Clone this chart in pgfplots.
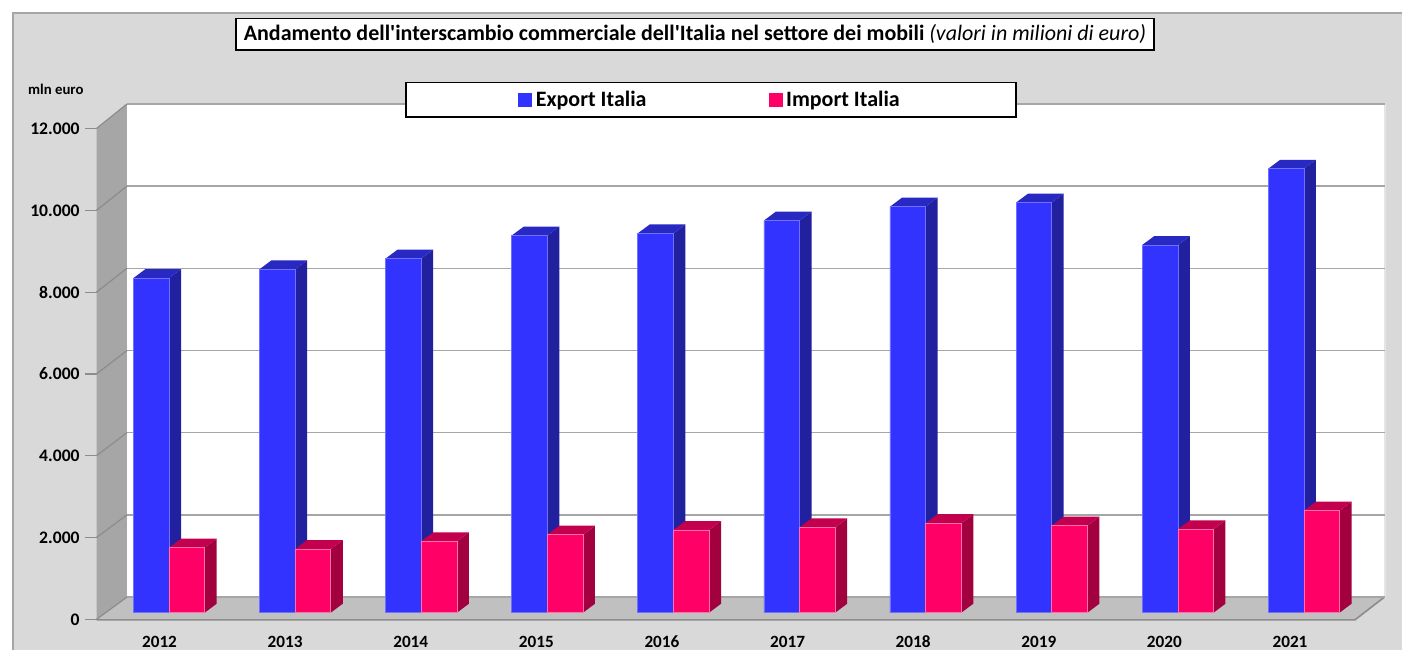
\documentclass[border=0pt]{standalone}
\usepackage{pgfplots}
\pgfplotsset{compat=1.18}
\usepackage{pgfplotstable}
\usepackage{fontspec}
\setmainfont{Carlito}
\newfontfamily\titlefont{Carlito}
\definecolor{chartbg}{HTML}{D9D9D9}
\definecolor{chartedge}{HTML}{A6A6A6}
\definecolor{sidewall}{HTML}{A6A6A6}
\definecolor{floorc}{HTML}{C0C0C0}
\definecolor{gridc}{HTML}{A6A6A6}
\definecolor{gridd}{HTML}{8C8C8C}
\definecolor{expfront}{HTML}{3333FF}
\definecolor{expedge}{HTML}{7070FF}
\definecolor{expsidec}{HTML}{2121A0}
\definecolor{exptopc}{HTML}{2828C2}
\definecolor{impfront}{HTML}{FF0066}
\definecolor{impedge}{HTML}{FF6FA8}
\definecolor{impsidec}{HTML}{A3003F}
\definecolor{imptopc}{HTML}{C2004E}

\pgfplotstableread{
idx exp imp
0 8150 1585
1 8365 1550
2 8625 1740
3 9185 1900
4 9240 2015
5 9550 2080
6 9890 2180
7 9990 2120
8 8955 2030
9 10815 2485
}\datatable

\pgfplotsset{
  expside/.style={fill=expsidec,draw=none},
  exptop/.style={fill=exptopc,draw=none},
  impside/.style={fill=impsidec,draw=none},
  imptop/.style={fill=imptopc,draw=none},
}
\def\bw{0.283}
\def\ddx{0.0952}
\def\ddy{219}

\begin{document}
\begin{tikzpicture}
\begin{scope}[x=0.5pt,y=-0.5pt,yshift=325pt]
  % page and chart area
  \fill[white] (0,0) rectangle (1402,650);
  \fill[chartbg] (13.4,12.7) rectangle (1402,650);
  \draw[chartedge,line width=1pt] (13.4,650) -- (13.4,12.7) -- (1402,12.7);
  % side wall
  \fill[sidewall] (96.5,128.5) -- (127,104) -- (127,597) -- (96.5,619.3) -- cycle;
  % back wall
  \fill[white] (127,104) rectangle (1384.5,597);
  \draw[gridc!80!black,line width=0.9pt] (127,104) -- (1384.5,104);
  \draw[gray!20,line width=1pt] (1385,104) -- (1385,597);
  % floor
  \fill[floorc] (96.5,619.3) -- (1355,619.3) -- (1384.5,597) -- (127,597) -- cycle;
  \draw[gridd,line width=0.8pt] (96.5,619.8) -- (1355,619.8) -- (1384.5,597);
  % gridlines
  \foreach \k in {0,...,6} {
    \draw[gridc,line width=0.8pt] (127,{597-82.17*\k}) -- (1384.5,{597-82.17*\k});
    \draw[gridd,line width=0.6pt] (96.5,{619.3-81.8*\k}) -- (127,{597-82.17*\k});
    \draw[gridd,line width=0.6pt] (85,{619.3-81.8*\k}) -- (96.5,{619.3-81.8*\k});
  }
  % title
  \node[draw=black,fill=white,line width=0.6pt,minimum width=459pt,minimum height=15.85pt,inner sep=0pt,font=\titlefont\fontsize{11}{13}\selectfont] at (695,34.2)
    {\textbf{Andamento dell'interscambio commerciale dell'Italia nel settore dei mobili} \textit{(valori in milioni di euro)}};
  % legend box
  \draw[black,fill=white,line width=0.6pt] (406,82.7) rectangle (1016,117);
  % unit label
  \node[anchor=base west,inner sep=0pt,font=\bfseries\fontsize{7.4}{8}\selectfont] at (27.7,94) {mln euro};
\end{scope}
\begin{axis}[
  at={(0,0)}, anchor=south west,
  scale only axis, width=701pt, height=325pt,
  xmin=-1.34020, xmax=9.77795, ymin=-908.6, ymax=14925.4,
  axis line style={draw=none}, tick style={draw=none},
  clip=false,
  ytick={-160.8,1831.8,3824.4,5817,7809.6,9802.2,11794.8},
  yticklabels={0,2.000,4.000,6.000,8.000,10.000,12.000},
  yticklabel style={anchor=east,inner sep=0pt,xshift=40pt,font=\bfseries\fontsize{8.8}{10}\selectfont},
  xtick={-0.0753,0.9208,1.9169,2.9131,3.9092,4.9053,5.9014,6.8975,7.8937,8.8898},
  xticklabels={2012,2013,2014,2015,2016,2017,2018,2019,2020,2021},
  xticklabel style={anchor=base,inner sep=0pt,yshift=1.2pt,font=\bfseries\fontsize{8.6}{10}\selectfont},
  legend columns=2,
  legend style={draw=none,fill=none,at={(0.50713,0.84638)},anchor=center,
    font=\bfseries\fontsize{11}{13}\selectfont,
    /tikz/every even column/.append style={column sep=59pt}},
]
\pgfplotsinvokeforeach{0,...,9}{%
  \pgfplotstablegetelem{#1}{exp}\of\datatable
  \pgfmathsetmacro\va{\pgfplotsretval}%
  \pgfplotstablegetelem{#1}{imp}\of\datatable
  \pgfmathsetmacro\vb{\pgfplotsretval}%
  \pgfmathsetmacro\vat{\va+\ddy}%
  \pgfmathsetmacro\vbt{\vb+\ddy}%
  \pgfmathsetmacro\xA{#1-\bw}%
  \pgfmathsetmacro\xB{#1}%
  \pgfmathsetmacro\xC{#1+\bw}%
  \pgfmathsetmacro\xAd{#1-\bw+\ddx}%
  \pgfmathsetmacro\xBd{#1+\ddx}%
  \pgfmathsetmacro\xCd{#1+\bw+\ddx}%
  \edef\doit{%
    \noexpand\addplot[expside,forget plot] coordinates {(\xB,0) (\xB,\va) (\xBd,\vat) (\xBd,\ddy)};
    \noexpand\addplot[exptop,forget plot] coordinates {(\xA,\va) (\xB,\va) (\xBd,\vat) (\xAd,\vat)};
    \noexpand\addplot[impside,forget plot] coordinates {(\xC,0) (\xC,\vb) (\xCd,\vbt) (\xCd,\ddy)};
    \noexpand\addplot[imptop,forget plot] coordinates {(\xB,\vb) (\xC,\vb) (\xCd,\vbt) (\xBd,\vbt)};
  }%
  \doit
}
\addplot[ybar,bar width=0.283,bar shift=-0.1415,fill=expfront,draw=expedge,line width=0.3pt,
  legend image code/.code={\fill[expfront] (0pt,-3.25pt) rectangle (6.5pt,3.25pt);}]
  table[x=idx,y=exp]{\datatable};
\addlegendentry{Export Italia}
\addplot[ybar,bar width=0.283,bar shift=0.1415,fill=impfront,draw=impedge,line width=0.3pt,
  legend image code/.code={\fill[impfront] (0pt,-3.25pt) rectangle (6.5pt,3.25pt);}]
  table[x=idx,y=imp]{\datatable};
\addlegendentry{Import Italia}
\end{axis}
\pgfresetboundingbox
\useasboundingbox (0,0) rectangle (701pt,325pt);
\end{tikzpicture}
\end{document}
